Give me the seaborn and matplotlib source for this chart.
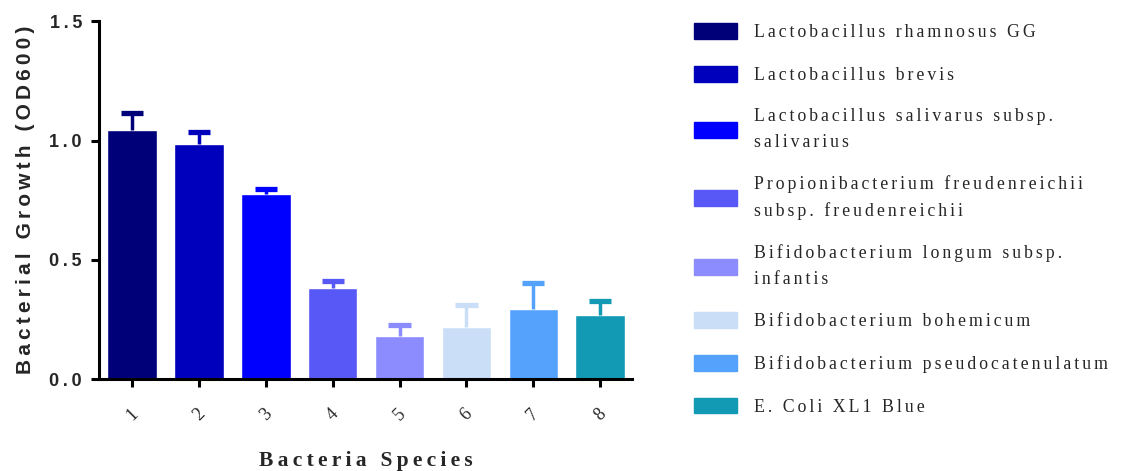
import numpy as np
import seaborn as sns
import matplotlib.pyplot as plt
from matplotlib.patches import Patch

# data
species_ids = ['1', '2', '3', '4', '5', '6', '7', '8']
growth = [1.045, 0.985, 0.775, 0.38, 0.18, 0.22, 0.293, 0.27]
growth_err = [0.07, 0.05, 0.02, 0.03, 0.045, 0.09, 0.11, 0.057]
species_names = ['Lactobacillus rhamnosus GG',
                 'Lactobacillus brevis',
                 'Lactobacillus salivarus subsp.\nsalivarius',
                 'Propionibacterium freudenreichii\nsubsp. freudenreichii',
                 'Bifidobacterium longum subsp.\ninfantis',
                 'Bifidobacterium bohemicum',
                 'Bifidobacterium pseudocatenulatum',
                 'E. Coli XL1 Blue']
bar_colors = ['#000078', '#0000BC', '#0000FF', '#5858F6',
              '#8C8CFF', '#CADEF8', '#55A2FC', '#1299B4']
y_ticks = [0.0, 0.5, 1.0, 1.5]


def spaced(s, sep='\u2009'):
    # fake letter spacing, the original uses wide tracking
    return '\n'.join(sep.join(line) for line in s.split('\n'))


sns.set_style('white')
plt.rcParams['font.family'] = ['Liberation Sans', 'DejaVu Sans']

fig = plt.figure(figsize=(11.21, 4.71), dpi=100)
ax = fig.add_axes([0.088, 0.195, 0.476, 0.76])

sns.barplot(x=species_ids, y=growth, hue=species_ids, palette=bar_colors,
            legend=False, width=0.74, saturation=1, ax=ax)

# upper error bars only (stem + cap)
xpos = np.arange(len(growth))
tops = np.array(growth) + np.array(growth_err)
ax.vlines(xpos, growth, tops, colors=bar_colors, lw=2.5, zorder=3)
ax.hlines(tops, xpos - 0.167, xpos + 0.167, colors=bar_colors, lw=3.8,
          zorder=3)

ax.set_ylim(0, 1.5)
ax.set_xlim(-0.5, 7.48)
ax.set_yticks(y_ticks)
ax.set_yticklabels([spaced(f'{t:.1f}') for t in y_ticks],
                   fontsize=13, fontweight='bold')
ax.set_xticks(xpos)
ax.set_xticklabels(species_ids, rotation=45, ha='center',
                   family='Liberation Serif', fontsize=13)

for side in ['top', 'right']:
    ax.spines[side].set_visible(False)
for side in ['left', 'bottom']:
    ax.spines[side].set_linewidth(2.2)
    ax.spines[side].set_color('black')
ax.tick_params(axis='both', direction='out', length=6, width=2.2,
               color='black', left=True, bottom=True)
ax.tick_params(axis='y', pad=6)
ax.tick_params(axis='x', pad=13)

ax.set_ylabel(spaced('Bacterial Growth (OD600)'), fontsize=15,
              fontweight='bold')
ax.yaxis.set_label_coords(-0.12, 0.5)
ax.set_xlabel(spaced('Bacteria Species'), fontsize=15.5, fontweight='bold',
              family='Liberation Serif')
ax.xaxis.set_label_coords(0.5, -0.2)

handles = [Patch(facecolor=c, edgecolor=c) for c in bar_colors]
leg = fig.legend(handles, [spaced(n, '\u200a\u200a') for n in species_names],
                 loc='upper left', bbox_to_anchor=(0.605, 0.985),
                 frameon=False,
                 prop={'family': 'Liberation Serif', 'size': 12.8},
                 handlelength=2.4, handleheight=1.0, handletextpad=0.95,
                 labelspacing=1.38)
for t in leg.get_texts():
    t.set_linespacing(1.65)

plt.savefig('out.png', dpi=100)
